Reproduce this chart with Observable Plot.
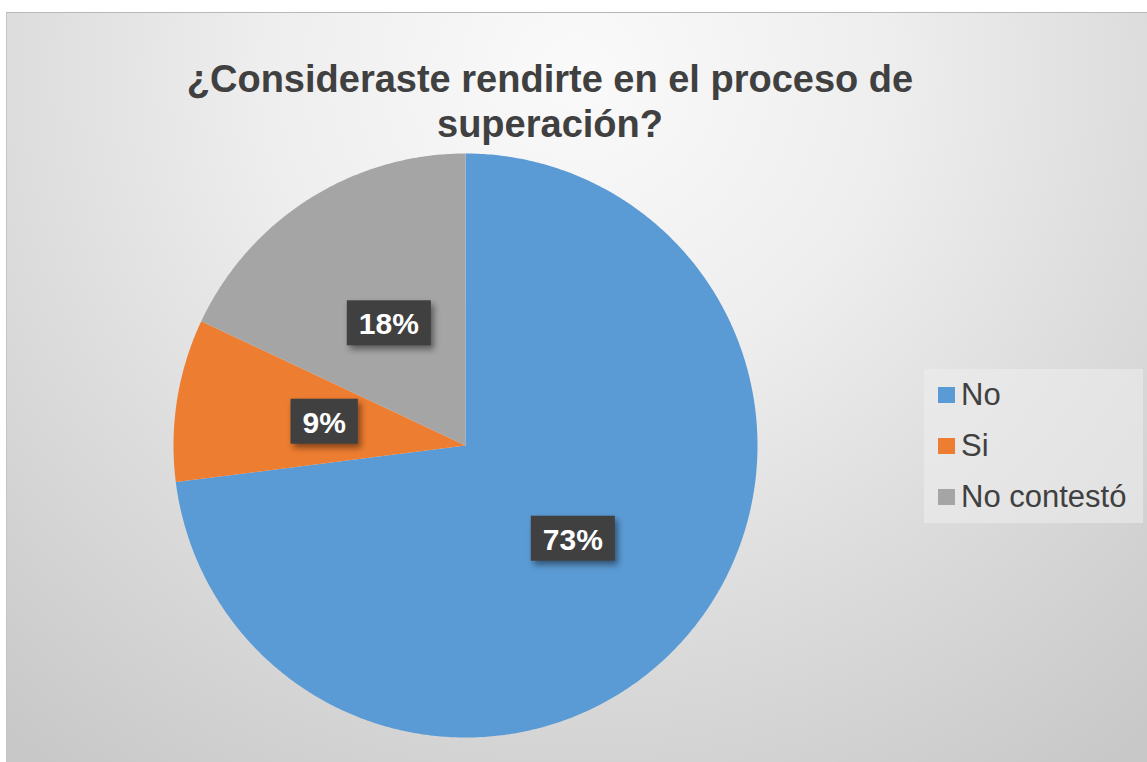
<!DOCTYPE html>
<html>
<head>
<meta charset="utf-8">
<script src="https://cdn.jsdelivr.net/npm/d3@7"></script>
<script src="https://cdn.jsdelivr.net/npm/@observablehq/plot@0.6"></script>
<style>
  html, body { margin: 0; padding: 0; background: #ffffff; width: 1147px; height: 762px; overflow: hidden; }
  body { position: relative; font-family: Arial, "Liberation Sans", sans-serif; }
  #bg {
    position: absolute; left: 6px; top: 12px; width: 1141px; height: 750px;
    box-sizing: border-box;
    border-top: 1px solid #b8b8b8; border-left: 1px solid #c4c4c4;
    background: radial-gradient(ellipse 78% 115% at 50% 8%, #fafafa 0%, #eeeeee 35%, #dcdcdc 65%, #c8c8c8 100%);
  }
  #title {
    position: absolute; left: 150px; width: 800px; top: 57px;
    text-align: center; font-weight: bold; font-size: 38px; line-height: 44.6px; color: #404040;
  }
  #chart { position: absolute; left: 165px; top: 145px; }
  #legend {
    position: absolute; left: 924px; top: 369px; width: 219px; height: 154px;
    background: rgba(238,238,238,0.55);
  }
  .li { position: absolute; left: 961px; font-size: 31px; line-height: 31px; color: #404040; white-space: nowrap; }
  .sw { position: absolute; left: 938px; width: 17px; height: 16px; }
</style>
</head>
<body>
<div id="bg"></div>
<div id="title">¿Consideraste rendirte en el proceso de<br>superación?</div>
<div id="chart"></div>
<div id="legend"></div>
<div id="legendItems"></div>
<script>
// ---- data ----
const categories = ["No", "Si", "No contestó"];
const percents = [73, 9, 18];
const labels = ["73%", "9%", "18%"];
const colors = ["#5B9BD5", "#ED7D31", "#A5A5A5"];

const data = categories.map((name, i) => ({name, value: percents[i], label: labels[i]}));

// pie geometry (start at 12 o'clock, clockwise)
const arcs = d3.pie().sort(null).value(d => d.value)(data);
const poly = [];
arcs.forEach(a => {
  poly.push({name: a.data.name, x: 0, y: 0});
  const n = Math.max(2, Math.ceil((a.endAngle - a.startAngle) / (Math.PI / 360)));
  for (let k = 0; k <= n; k++) {
    const t = a.startAngle + (a.endAngle - a.startAngle) * k / n;
    poly.push({name: a.data.name, x: Math.sin(t), y: Math.cos(t)});
  }
});
const labelR = 0.49;
const labelPts = arcs.map(a => {
  const m = (a.startAngle + a.endAngle) / 2;
  return {name: a.data.name, label: a.data.label, x: labelR * Math.sin(m), y: labelR * Math.cos(m)};
});

const svg = Plot.plot({
  width: 600, height: 600, margin: 8,
  style: {background: "transparent", overflow: "visible", fontFamily: "Arial, 'Liberation Sans', sans-serif"},
  x: {domain: [-1, 1], axis: null},
  y: {domain: [-1, 1], axis: null},
  color: {domain: categories, range: colors, type: "ordinal"},
  marks: [
    Plot.line(poly, {x: "x", y: "y", z: "name", fill: "name", stroke: "none", curve: "linear-closed"}),
    Plot.text(labelPts, {x: "x", y: "y", text: "label", fill: "white", fontWeight: "bold", fontSize: 30})
  ]
});
document.getElementById("chart").appendChild(svg);

// dark label boxes behind the texts (same local transform as each text)
const textG = svg.querySelector('g[aria-label="text"]');
Array.from(textG.querySelectorAll("text")).forEach(t => {
  const b = t.getBBox();
  const cx = b.x + b.width / 2, cy = b.y + b.height / 2;
  const w = b.width + 24, h = 45;
  const r = document.createElementNS("http://www.w3.org/2000/svg", "rect");
  r.setAttribute("x", cx - w / 2);
  r.setAttribute("y", cy - h / 2 - 1);
  r.setAttribute("width", w);
  r.setAttribute("height", h);
  r.setAttribute("fill", "#404040");
  const tr = t.getAttribute("transform");
  if (tr) r.setAttribute("transform", tr);
  r.setAttribute("style", "filter: drop-shadow(3px 4px 3px rgba(0,0,0,0.45))");
  t.parentNode.insertBefore(r, t);
});

// legend
const li = document.getElementById("legendItems");
const baselines = [405, 456, 507];
categories.forEach((c, i) => {
  const sw = document.createElement("div");
  sw.className = "sw";
  sw.style.top = (baselines[i] - 18) + "px";
  sw.style.background = colors[i];
  li.appendChild(sw);
  const t = document.createElement("div");
  t.className = "li";
  t.style.top = (baselines[i] - 26.3) + "px";
  t.textContent = c;
  li.appendChild(t);
});
</script>
</body>
</html>
